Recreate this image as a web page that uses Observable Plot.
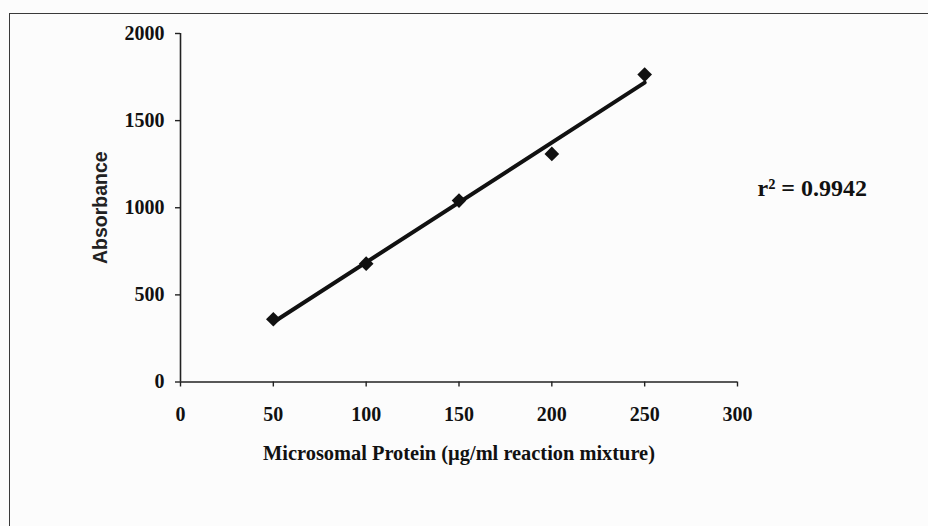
<!DOCTYPE html>
<html>
<head>
<meta charset="utf-8">
<script src="https://cdn.jsdelivr.net/npm/d3@7"></script>
<script src="https://cdn.jsdelivr.net/npm/@observablehq/plot@0.6"></script>
<style>
  html, body { margin: 0; padding: 0; background: #fcfcfc; overflow: hidden; width: 928px; height: 526px; }
  #wrap { position: relative; width: 928px; height: 526px; }
  #frame { position: absolute; left: 9px; top: 13px; width: 940px; height: 540px; border: 1.6px solid #3a3a3a; box-sizing: border-box; }
  #chart { position: absolute; left: 0; top: 0; }
  #chart svg text { font-weight: bold; }
</style>
</head>
<body>
<div id="wrap">
  <div id="frame"></div>
  <div id="chart"></div>
</div>
<script>
// Data
const protein = [50, 100, 150, 200, 250];          // µg/ml reaction mixture
const absorbance = [360, 679, 1041, 1309, 1764];   // Absorbance
const xTicks = [0, 50, 100, 150, 200, 250, 300];
const yTicks = [0, 500, 1000, 1500, 2000];
const xLabel = ["Microsomal Protein (µg/ml reaction mixture)"];
const yLabel = ["Absorbance"];
const annotation = ["r² = 0.9942"];

const points = protein.map((x, i) => ({x, y: absorbance[i]}));
const serif = "'Liberation Serif', 'Times New Roman', serif";

const chart = Plot.plot({
  width: 928,
  height: 526,
  marginLeft: 180,
  marginRight: 191,
  marginTop: 33,
  marginBottom: 144.5,
  style: {fontFamily: serif, fontSize: "19px", color: "#111", background: "transparent"},
  x: {domain: [0, 300], ticks: xTicks, label: null},
  y: {domain: [0, 2000], ticks: yTicks, label: null},
  marks: [
    Plot.axisX({ticks: xTicks, tickFormat: d => String(d), tickSize: 5, tickPadding: 20, fontSize: 20, label: null, stroke: "#222", strokeWidth: 1.4}),
    Plot.axisY({ticks: yTicks, tickFormat: d => String(d), tickSize: 5, tickPadding: 11, fontSize: 20, label: null, stroke: "#222", strokeWidth: 1.4}),
    Plot.ruleY([0], {stroke: "#222", strokeWidth: 1.6}),
    Plot.ruleX([0], {stroke: "#222", strokeWidth: 1.6}),
    Plot.linearRegressionY(points, {x: "x", y: "y", ci: 0, stroke: "#111", strokeWidth: 4}),
    Plot.dot(points, {x: "x", y: "y", symbol: "diamond2", r: 6.6, fill: "#111", stroke: "none"}),
    Plot.text(xLabel, {frameAnchor: "bottom", textAnchor: "middle", dy: 78, fontSize: 20.4, fill: "#111", fontFamily: serif}),
    Plot.text(yLabel, {frameAnchor: "left", textAnchor: "middle", dx: -80, rotate: -90, fontSize: 19.5, fill: "#222", fontFamily: "'Liberation Sans', Arial, sans-serif"}),
    Plot.text(annotation, {frameAnchor: "right", textAnchor: "start", dx: 20, dy: -19, fontSize: 24, fill: "#111", fontFamily: serif})
  ]
});
document.getElementById("chart").append(chart);
</script>
</body>
</html>
